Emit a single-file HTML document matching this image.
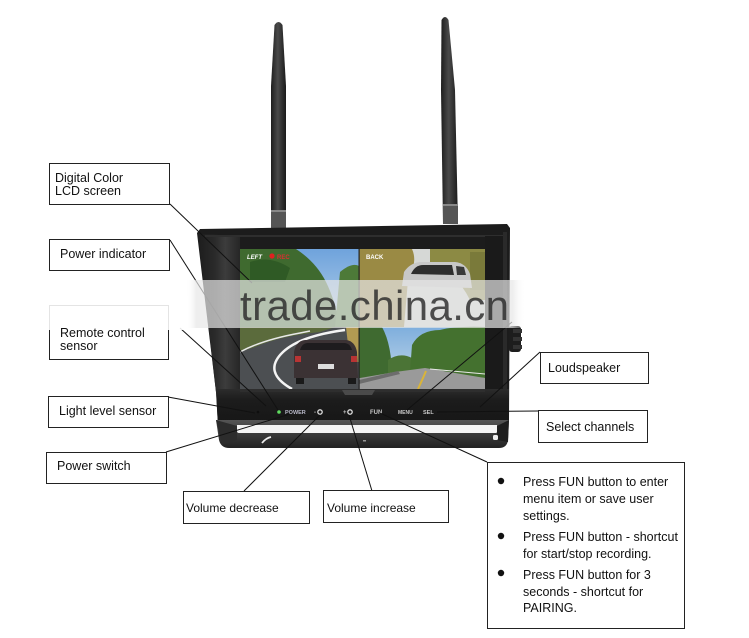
<!DOCTYPE html>
<html><head><meta charset="utf-8">
<style>
html,body{margin:0;padding:0;background:#fff;}
svg{display:block;}
text{font-family:"Liberation Sans",Arial,sans-serif;}
</style></head>
<body>
<svg width="749" height="638" viewBox="0 0 749 638" xmlns="http://www.w3.org/2000/svg">
<defs>
  <linearGradient id="ant" x1="0" x2="1" y1="0" y2="0">
    <stop offset="0" stop-color="#1e1e1e"/><stop offset="0.45" stop-color="#4a4a4a"/><stop offset="1" stop-color="#1a1a1a"/>
  </linearGradient>
  <linearGradient id="side" x1="0" x2="1" y1="0" y2="0">
    <stop offset="0" stop-color="#1d1d1d"/><stop offset="0.4" stop-color="#2a2a2a"/><stop offset="0.65" stop-color="#3c3c3c"/><stop offset="1" stop-color="#262626"/>
  </linearGradient>
  <linearGradient id="bez" x1="0" x2="0" y1="0" y2="1">
    <stop offset="0" stop-color="#2c2c2c"/><stop offset="0.3" stop-color="#1c1c1c"/><stop offset="1" stop-color="#161616"/>
  </linearGradient>
  <linearGradient id="brk" x1="0" x2="0" y1="0" y2="1">
    <stop offset="0" stop-color="#555"/><stop offset="0.5" stop-color="#3a3a3a"/><stop offset="1" stop-color="#222"/>
  </linearGradient>
  <linearGradient id="sky1" x1="0" x2="0" y1="0" y2="1">
    <stop offset="0" stop-color="#6fa3dc"/><stop offset="1" stop-color="#b9d3ea"/>
  </linearGradient>
  <linearGradient id="sky2" x1="0" x2="0" y1="0" y2="1">
    <stop offset="0" stop-color="#7eaedd"/><stop offset="1" stop-color="#c9dcea"/>
  </linearGradient>
  <linearGradient id="band" x1="0" x2="1" y1="0" y2="0">
    <stop offset="0" stop-color="#fff" stop-opacity="0"/>
    <stop offset="0.03" stop-color="#e6e6e6" stop-opacity="0.7"/>
    <stop offset="0.96" stop-color="#e6e6e6" stop-opacity="0.7"/>
    <stop offset="1" stop-color="#fff" stop-opacity="0"/>
  </linearGradient>
  <clipPath id="scr"><rect x="240" y="249" width="245" height="140"/></clipPath>
</defs>

<!-- Antennas -->
<path d="M274.5,25 Q278.5,19 282.5,25 L286,86 L286,228 L271,228 L271,86 Z" fill="url(#ant)"/>
<rect x="271" y="210" width="15" height="18" fill="#555"/>
<rect x="271" y="210" width="15" height="2" fill="#888"/>
<path d="M441.5,20 Q445,14 448.5,20 L455,90 L458,224 L443,224 L441,90 Z" fill="url(#ant)"/>
<rect x="443" y="204" width="15" height="20" fill="#555"/>
<rect x="443" y="204" width="15" height="2" fill="#888"/>

<!-- Housing body -->
<path d="M197,233 L200,229 L507,224 L510,228 L509,420 Q509,426 503,426 L218,426 L216,392 Z" fill="#1c1c1c"/>
<path d="M198,234 L240,236 L240,392 L216,392 Z" fill="url(#side)"/>
<rect x="205" y="235" width="300" height="2" fill="#2e2e2e"/>
<rect x="485" y="236" width="22" height="158" fill="#1a1a1a"/>
<rect x="503" y="232" width="4" height="190" fill="#2a2a2a"/>

<!-- Screen -->
<g clip-path="url(#scr)">
  <rect x="240" y="249" width="245" height="140" fill="#555"/>
  <rect x="240" y="249" width="119" height="78" fill="url(#sky1)"/>
  <path d="M240,249 L296,249 Q316,262 326,282 Q335,300 340,327 L240,327 Z" fill="#3f6a2f"/>
  <path d="M340,272 Q352,262 359,266 L359,327 L335,327 Z" fill="#4d7a38"/>
  <path d="M250,262 Q270,255 290,268 L285,282 L250,282 Z" fill="#2f5a25"/>
  <text x="247" y="259" font-size="6" fill="#fff" font-weight="bold" font-style="italic">LEFT</text>
  <circle cx="272" cy="256" r="2.6" fill="#e02020"/>
  <text x="277" y="259" font-size="6" fill="#d83030" font-weight="bold">REC</text>
  <rect x="359" y="249" width="126" height="78" fill="#d6d8d6"/>
  <path d="M359,249 L412,249 Q418,262 408,280 L404,327 L359,327 Z" fill="#9a8a44"/>
  <path d="M430,249 L485,249 L485,300 L470,300 Q455,270 430,265 Z" fill="#8c8a44"/>
  <path d="M470,252 L485,252 L485,290 L470,290 Z" fill="#7a7a3a"/>
  <path d="M402,286 L404,272 Q410,263 420,262 L455,262 Q466,263 470,274 L472,288 Z" fill="#c8c8c8"/>
  <path d="M411,274 Q415,265 423,265 L452,265 L454,275 Z" fill="#2e2e2e"/>
  <path d="M456,266 L464,267 L466,275 L457,275 Z" fill="#3a3a3a"/>
  <text x="366" y="259" font-size="6" fill="#fff" font-weight="bold">BACK</text>
  <rect x="240" y="327" width="119" height="62" fill="#4c4f52"/>
  <path d="M240,327 L335,327 L320,332 Q280,336 255,347 L240,352 Z" fill="#5b6b3c"/>
  <path d="M240,352 Q262,340 300,333 L310,331" stroke="#e8e8e8" stroke-width="1.5" fill="none"/>
  <path d="M292,389 Q262,372 283,352 Q300,336 345,330" stroke="#f4f4f4" stroke-width="2.5" fill="none"/>
  <path d="M346,327 L359,327 L359,362 L350,362 Z" fill="#b29a52"/>
  <path d="M294,352 Q296,341 305,340 L346,340 Q355,341 357,352 L358,378 L294,378 Z" fill="#3b3234"/>
  <path d="M300,350 Q302,343 308,343 L344,343 Q350,343 352,350 Z" fill="#1e1c1e"/>
  <rect x="295" y="356" width="6" height="6" fill="#b83434"/>
  <rect x="351" y="356" width="6" height="6" fill="#b83434"/>
  <rect x="318" y="364" width="16" height="5" fill="#ddd"/>
  <rect x="296" y="378" width="8" height="6" fill="#1a1a1a"/>
  <rect x="348" y="378" width="8" height="6" fill="#1a1a1a"/>
  <rect x="359" y="327" width="126" height="62" fill="url(#sky2)"/>
  <path d="M359,327 L382,327 Q392,345 392,378 L359,378 Z" fill="#3f6a30"/>
  <path d="M388,360 Q400,352 412,358 L412,374 L388,374 Z" fill="#4b7436"/>
  <path d="M412,345 Q420,330 440,330 Q455,326 485,327 L485,378 L410,372 Z" fill="#44712f"/>
  <path d="M359,389 L360,378 L395,372 L425,368 L485,378 L485,389 Z" fill="#9a9a9a"/>
  <path d="M359,380 L398,371 L400,374 L359,384 Z" fill="#6d6d6d"/>
  <path d="M418,389 L423,378 L426,371" stroke="#d9b43a" stroke-width="2" fill="none"/>
  <path d="M430,369 L485,374" stroke="#e8e8e8" stroke-width="1" fill="none"/>
  <rect x="358.5" y="249" width="1.2" height="140" fill="#222"/>
</g>

<!-- Bottom bezel -->
<path d="M216,389 L509,389 L509,420 Q509,426 503,426 L218,426 Z" fill="url(#bez)"/>
<rect x="240" y="389" width="245" height="3" fill="#2e2e2e"/>
<path d="M342,390 L375,390 L372,395 L345,395 Z" fill="#4a4a4a"/>
<circle cx="279" cy="412" r="1.8" fill="#5fdc5f"/>
<text x="285" y="414" font-size="5.5" fill="#b8b8c8" font-weight="bold">POWER</text>
<text x="314" y="414" font-size="6" fill="#c8c8c8" font-weight="bold">-</text>
<circle cx="320" cy="412" r="2.2" fill="none" stroke="#ddd" stroke-width="1.3"/>
<text x="343" y="414" font-size="6" fill="#c8c8c8" font-weight="bold">+</text>
<circle cx="350" cy="412" r="2.2" fill="none" stroke="#ddd" stroke-width="1.3"/>
<text x="370" y="414" font-size="6" fill="#c8c8c8" font-weight="bold">FUN</text>
<text x="398" y="414" font-size="5" fill="#c8c8c8" font-weight="bold">MENU</text>
<text x="423" y="414" font-size="5.5" fill="#c8c8c8" font-weight="bold">SEL</text>
<circle cx="258" cy="412" r="1.3" fill="#0e0e0e"/>

<!-- Bracket -->
<path d="M216,420 L219,440 Q221,448 229,448 L499,448 Q507,448 508,440 L509,420 Z" fill="url(#brk)"/>
<path d="M237,425 L497,425 L497,432 Q497,433 495,433 L239,433 Q237,433 237,431 Z" fill="#f4f4f4"/>
<path d="M216,420 L237,426 L237,440 L222,445 Z" fill="#2c2c2c"/>
<path d="M497,426 L509,420 L508,442 L497,440 Z" fill="#1e1e1e"/>
<path d="M262,443 Q266,438 271,437" stroke="#eee" stroke-width="1.8" fill="none"/>
<rect x="493" y="435" width="5" height="5" rx="1.5" fill="#eee"/>
<rect x="363" y="440" width="3" height="1.5" fill="#999"/>

<!-- Knob -->
<rect x="509" y="326" width="12" height="26" rx="3" fill="#1d1d1d"/>
<rect x="513" y="329" width="9" height="4" fill="#333"/>
<rect x="513" y="337" width="9" height="4" fill="#333"/>
<rect x="513" y="345" width="9" height="4" fill="#333"/>

<!-- Connector lines -->
<g stroke="#111" stroke-width="1" fill="none">
  <line x1="170" y1="204" x2="252" y2="283"/>
  <line x1="170" y1="240" x2="278" y2="410"/>
  <line x1="180" y1="328" x2="266" y2="406"/>
  <line x1="168" y1="397" x2="255" y2="413"/>
  <line x1="166" y1="452" x2="290" y2="414"/>
  <line x1="244" y1="491" x2="320" y2="415"/>
  <line x1="372" y1="491" x2="349" y2="415"/>
  <line x1="487" y1="462" x2="380" y2="413"/>
  <line x1="437" y1="412" x2="538" y2="411"/>
  <line x1="540" y1="352" x2="480" y2="407"/>
  <line x1="407" y1="410" x2="512" y2="322"/>
</g>

<rect x="49.5" y="305.5" width="119" height="54" fill="none" stroke="#222" stroke-width="1"/>

<!-- Watermark band -->
<rect x="186" y="280" width="340" height="48" fill="url(#band)"/>
<rect x="0" y="296" width="188" height="34" fill="#fff" opacity="0.88"/>
<text x="240" y="320" font-size="42" fill="#2a2a2a" fill-opacity="0.82" letter-spacing="0.4">trade.china.cn</text>

<!-- Label boxes -->
<g fill="#fff" stroke="#222" stroke-width="1">
  <rect x="49.5" y="163.5" width="120" height="41"/>
  <rect x="49.5" y="239.5" width="120" height="31"/>
  <rect x="48.5" y="396.5" width="120" height="31"/>
  <rect x="46.5" y="452.5" width="120" height="31"/>
  <rect x="183.5" y="491.5" width="126" height="32"/>
  <rect x="323.5" y="490.5" width="125" height="32"/>
  <rect x="540.5" y="352.5" width="108" height="31"/>
  <rect x="538.5" y="410.5" width="109" height="32"/>
  <rect x="487.5" y="462.5" width="197" height="166"/>
</g>
<rect x="50" y="328" width="118" height="31" fill="#fff"/>

<g font-size="12.5" fill="#111">
  <text x="55" y="182">Digital Color</text>
  <text x="55" y="195">LCD screen</text>
  <text x="60" y="258">Power indicator</text>
  <text x="60" y="337">Remote control</text>
  <text x="60" y="350">sensor</text>
  <text x="59" y="415">Light level sensor</text>
  <text x="57" y="470">Power switch</text>
  <text x="186" y="512" font-size="12">Volume decrease</text>
  <text x="327" y="512" font-size="12">Volume increase</text>
  <text x="548" y="372">Loudspeaker</text>
  <text x="546" y="431">Select channels</text>
</g>

<g fill="#111">
  <circle cx="501" cy="481" r="3.2"/>
  <circle cx="501" cy="536" r="3.2"/>
  <circle cx="501" cy="573" r="3.2"/>
</g>
<g font-size="12.5" fill="#111">
  <text x="523" y="486">Press FUN button to enter</text>
  <text x="523" y="503">menu item or save user</text>
  <text x="523" y="520">settings.</text>
  <text x="523" y="541">Press FUN button - shortcut</text>
  <text x="523" y="558">for start/stop recording.</text>
  <text x="523" y="579">Press FUN button for 3</text>
  <text x="523" y="596">seconds - shortcut for</text>
  <text x="523" y="612">PAIRING.</text>
</g>
</svg>
</body></html>
